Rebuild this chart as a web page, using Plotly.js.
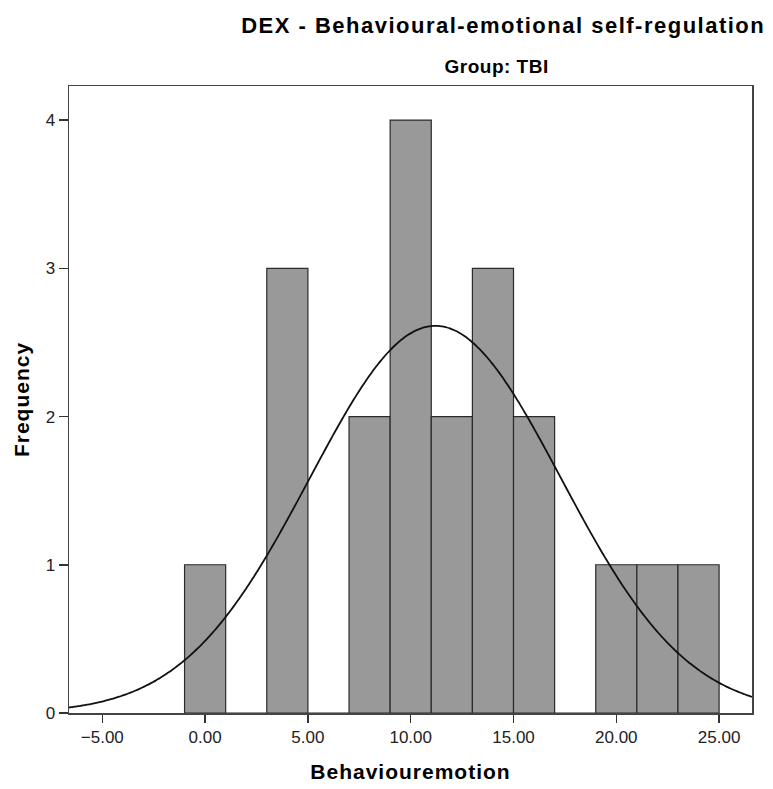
<!DOCTYPE html>
<html>
<head>
<meta charset="utf-8">
<script src="https://cdn.plot.ly/plotly-3.0.1.min.js"></script>
<style>
  html, body { margin: 0; padding: 0; background: #fff; }
  #chart { width: 773px; height: 789px; }
  /* wider tracking on the headings */
  #chart .gtitle { letter-spacing: 1.5px; }
  #chart .xtitle, #chart .ytitle { letter-spacing: 1px; }
  #chart .annotation-text { letter-spacing: 0.5px; }
</style>
</head>
<body>
<div id="chart"></div>
<script>
// Histogram of Behaviouremotion scores (bin width 2), Group: TBI
const binCenters = [0, 2, 4, 6, 8, 10, 12, 14, 16, 18, 20, 22, 24];
const frequencies = [1, 0, 3, 0, 2, 4, 2, 3, 2, 0, 1, 1, 1];
const binWidth = 2;

// Fitted normal curve parameters
const sampleSize = 20;
const sampleMean = 11.2;
const sampleSD = 6.11;

const xTickValues = [-5, 0, 5, 10, 15, 20, 25];
const yTickValues = [0, 1, 2, 3, 4];

const xRange = [-6.62, 26.6];
const yRange = [0, 4.23];

// Normal density scaled to counts per bin
const curveX = [];
const curveY = [];
const steps = 300;
for (let i = 0; i <= steps; i++) {
  const x = xRange[0] + (xRange[1] - xRange[0]) * i / steps;
  const z = (x - sampleMean) / sampleSD;
  curveX.push(x);
  curveY.push(sampleSize * binWidth * Math.exp(-0.5 * z * z) / (sampleSD * Math.sqrt(2 * Math.PI)));
}

const font = 'Liberation Sans, Arial, sans-serif';

const traces = [
  {
    type: 'bar',
    x: binCenters,
    y: frequencies,
    width: binWidth,
    marker: { color: '#999999', line: { color: '#2b2b2b', width: 1.2 } },
    hoverinfo: 'x+y'
  },
  {
    type: 'scatter',
    mode: 'lines',
    x: curveX,
    y: curveY,
    line: { color: '#111111', width: 1.8, shape: 'spline' },
    hoverinfo: 'skip'
  }
];

const layout = {
  width: 773,
  height: 789,
  margin: { l: 69, r: 21, t: 86, b: 76 },
  paper_bgcolor: '#ffffff',
  plot_bgcolor: '#ffffff',
  showlegend: false,
  bargap: 0,
  font: { family: font, color: '#222' },
  title: {
    text: '<b>DEX - Behavioural-emotional self-regulation</b>',
    font: { family: font, size: 22, color: '#000' },
    xref: 'container', yref: 'container',
    x: 0.99, xanchor: 'right',
    y: 0.968, yanchor: 'middle'
  },
  annotations: [
    {
      text: '<b>Group: TBI</b>',
      xref: 'paper', yref: 'paper',
      x: (496 - 69) / 683, y: 1.031,
      xanchor: 'center', yanchor: 'middle',
      showarrow: false,
      font: { family: font, size: 19, color: '#000' }
    }
  ],
  xaxis: {
    range: xRange,
    tickvals: xTickValues,
    tickformat: '.2f',
    ticks: 'outside',
    ticklen: 8,
    tickwidth: 1.5,
    tickcolor: '#333',
    showgrid: false,
    zeroline: false,
    showline: true,
    mirror: true,
    linecolor: '#444',
    linewidth: 1.5,
    tickfont: { family: font, size: 17, color: '#222' },
    title: {
      text: '<b>Behaviouremotion</b>',
      font: { family: font, size: 21, color: '#000' },
      standoff: 18
    }
  },
  yaxis: {
    range: yRange,
    tickvals: yTickValues,
    ticks: 'outside',
    ticklen: 9,
    tickwidth: 1.5,
    tickcolor: '#333',
    showgrid: false,
    zeroline: false,
    showline: true,
    mirror: true,
    linecolor: '#444',
    linewidth: 1.5,
    tickfont: { family: font, size: 17, color: '#222' },
    title: {
      text: '<b>Frequency</b>',
      font: { family: font, size: 21, color: '#000' },
      standoff: 10
    }
  }
};

Plotly.newPlot('chart', traces, layout, { displayModeBar: false, staticPlot: true });
</script>
</body>
</html>
